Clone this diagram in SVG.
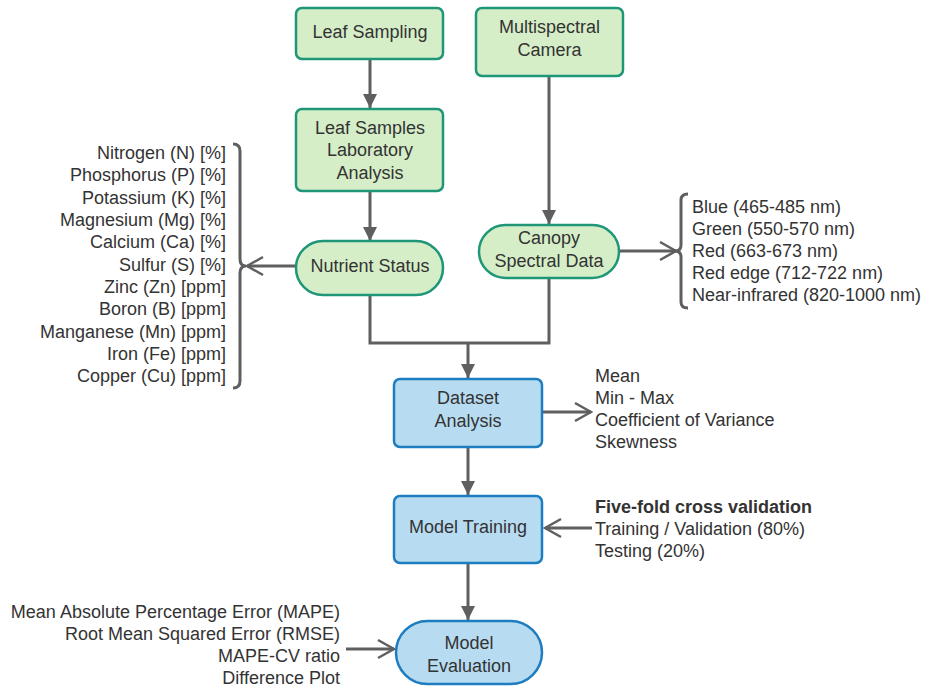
<svg xmlns="http://www.w3.org/2000/svg" width="925" height="687" viewBox="0 0 925 687">
<style>
text{font-family:"Liberation Sans",Arial,sans-serif;font-size:18px;fill:#333}
.c{text-anchor:middle}
.r{text-anchor:end}
.g{fill:#d5eec8;stroke:#1f9677;stroke-width:2.5}
.b{fill:#b7dcf2;stroke:#1d7dc0;stroke-width:2.5}
.ln{fill:none;stroke:#5f5f5f;stroke-width:3}
.bold{font-weight:bold}
</style>
<defs>
<marker id="fa" markerUnits="userSpaceOnUse" markerWidth="14" markerHeight="14" refX="14" refY="7" orient="auto">
<path d="M0,0 L14,7 L0,14 z" fill="#5f5f5f"/>
</marker>
<marker id="oa" markerUnits="userSpaceOnUse" markerWidth="20" markerHeight="22" refX="18" refY="11" orient="auto">
<path d="M2,2 L18,11 L2,20" fill="none" stroke="#5f5f5f" stroke-width="2.5"/>
</marker>
</defs>
<g id="connectors">
<line class="ln" x1="370" y1="59" x2="370" y2="108" marker-end="url(#fa)"/>
<line class="ln" x1="370" y1="191" x2="370" y2="241" marker-end="url(#fa)"/>
<line class="ln" x1="549" y1="76" x2="549" y2="224" marker-end="url(#fa)"/>
<polyline class="ln" points="370,295 370,343 549,343 549,278"/>
<line class="ln" x1="468" y1="343" x2="468" y2="378" marker-end="url(#fa)"/>
<line class="ln" x1="468" y1="447" x2="468" y2="495" marker-end="url(#fa)"/>
<line class="ln" x1="468" y1="563" x2="468" y2="620" marker-end="url(#fa)"/>
<line class="ln" x1="296" y1="266" x2="247" y2="266" marker-end="url(#oa)"/>
<line class="ln" x1="619" y1="251" x2="676" y2="251" marker-end="url(#oa)"/>
<line class="ln" x1="542" y1="412" x2="591" y2="412" marker-end="url(#oa)"/>
<line class="ln" x1="592" y1="528" x2="545" y2="528" marker-end="url(#oa)"/>
<line class="ln" x1="346" y1="649" x2="394" y2="649" marker-end="url(#oa)"/>
<path class="ln" stroke-width="2.5" d="M233,144 Q240,144 240,151 L240,259 Q240,266 246,266 Q240,266 240,273 L240,381 Q240,388 233,388"/>
<path class="ln" stroke-width="2.5" d="M688,194 Q681,194 681,200 L681,245 Q681,251 675,251 Q681,251 681,257 L681,302 Q681,308 688,308"/>
</g>
<g id="leaf-sampling">
<rect class="g" x="296" y="8" width="147" height="51" rx="6"/>
<text class="c" x="370" y="38">Leaf Sampling</text>
</g>
<g id="multispectral-camera">
<rect class="g" x="476" y="8" width="147" height="68" rx="6"/>
<text class="c" x="549.5" y="33">Multispectral</text>
<text class="c" x="549.5" y="56">Camera</text>
</g>
<g id="lab-analysis">
<rect class="g" x="296" y="109" width="147" height="82" rx="6"/>
<text class="c" x="370" y="134">Leaf Samples</text>
<text class="c" x="370" y="156">Laboratory</text>
<text class="c" x="370" y="179">Analysis</text>
</g>
<g id="nutrient-status">
<rect class="g" x="296" y="241" width="147" height="54" rx="27"/>
<text class="c" x="370" y="272">Nutrient Status</text>
</g>
<g id="canopy-spectral-data">
<rect class="g" x="479" y="225" width="140" height="53" rx="26.5"/>
<text class="c" x="549" y="244">Canopy</text>
<text class="c" x="549" y="267">Spectral Data</text>
</g>
<g id="dataset-analysis">
<rect class="b" x="394" y="379" width="148" height="68" rx="6"/>
<text class="c" x="468" y="404">Dataset</text>
<text class="c" x="468" y="427">Analysis</text>
</g>
<g id="model-training">
<rect class="b" x="394" y="496" width="148" height="67" rx="6"/>
<text class="c" x="468" y="533">Model Training</text>
</g>
<g id="model-evaluation">
<rect class="b" x="396" y="621" width="146" height="63" rx="31.5"/>
<text class="c" x="469" y="649">Model</text>
<text class="c" x="469" y="672">Evaluation</text>
</g>
<g id="nutrient-list">
<text class="r" x="226" y="159">Nitrogen (N) [%]</text>
<text class="r" x="226" y="181">Phosphorus (P) [%]</text>
<text class="r" x="226" y="204">Potassium (K) [%]</text>
<text class="r" x="226" y="226">Magnesium (Mg) [%]</text>
<text class="r" x="226" y="248">Calcium (Ca) [%]</text>
<text class="r" x="226" y="271">Sulfur (S) [%]</text>
<text class="r" x="226" y="293">Zinc (Zn) [ppm]</text>
<text class="r" x="226" y="315">Boron (B) [ppm]</text>
<text class="r" x="226" y="338">Manganese (Mn) [ppm]</text>
<text class="r" x="226" y="360">Iron (Fe) [ppm]</text>
<text class="r" x="226" y="382">Copper (Cu) [ppm]</text>
</g>
<g id="band-list">
<text x="692" y="213">Blue (465-485 nm)</text>
<text x="692" y="235">Green (550-570 nm)</text>
<text x="692" y="257">Red (663-673 nm)</text>
<text x="692" y="279">Red edge (712-722 nm)</text>
<text x="692" y="301">Near-infrared (820-1000 nm)</text>
</g>
<g id="stats-list">
<text x="595" y="382">Mean</text>
<text x="595" y="404">Min - Max</text>
<text x="595" y="426">Coefficient of Variance</text>
<text x="595" y="448">Skewness</text>
</g>
<g id="training-list">
<text class="bold" x="595" y="513">Five-fold cross validation</text>
<text x="595" y="535">Training / Validation (80%)</text>
<text x="595" y="557">Testing (20%)</text>
</g>
<g id="metrics-list">
<text class="r" x="340" y="618">Mean Absolute Percentage Error (MAPE)</text>
<text class="r" x="340" y="640">Root Mean Squared Error (RMSE)</text>
<text class="r" x="340" y="662">MAPE-CV ratio</text>
<text class="r" x="340" y="684">Difference Plot</text>
</g>
</svg>
